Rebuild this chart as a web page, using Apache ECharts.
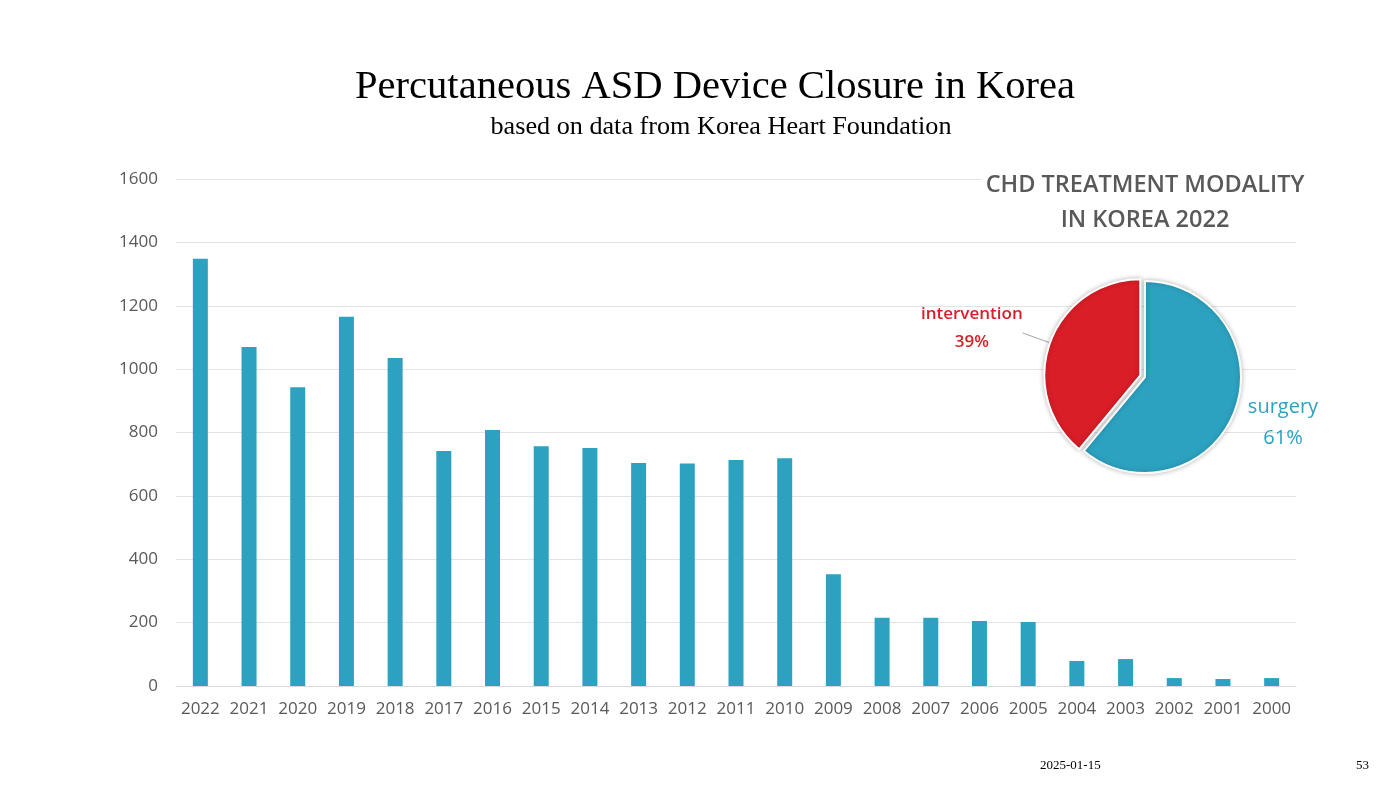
<!DOCTYPE html>
<html>
<head>
<meta charset="utf-8">
<script src="https://cdn.jsdelivr.net/npm/echarts@6/dist/echarts.min.js"></script>
<style>
html,body{margin:0;padding:0;background:#fff;}
#main{width:1400px;height:788px;}
</style>
</head>
<body>
<div id="main"></div>
<script>
// 연도별 시술 건수
var years = ['2022','2021','2020','2019','2018','2017','2016','2015','2014','2013','2012','2011',
	'2010','2009','2008','2007','2006','2005','2004','2003','2002','2001','2000'];
var closures = [1348,1070,943,1165,1035,742,808,757,751,704,702,713,719,353,215,215,205,202,79,85,25,22,25];

// 2022 치료 방법 비율
var modalityNames = ['surgery','intervention'];
var modalityValues = [61,39];
var modalityColors = ['#2ca2c0','#d91e27'];

var myChart = echarts.init(document.getElementById('main'));

var pieData = [];
for(var i=0;i<modalityNames.length;i++){
	var isInt = modalityNames[i]=='intervention';
	pieData.push({
		name: modalityNames[i],
		value: modalityValues[i],
		selected: isInt,
		itemStyle: {color: modalityColors[i]},
		label: {
			rich: {t: {
				color: modalityColors[i],
				fontFamily: 'Open Sans',
				align: 'center',
				fontSize: isInt ? 17 : 20,
				fontWeight: isInt ? 600 : 500,
				lineHeight: isInt ? 28 : 31
			}},
			padding: isInt ? [0, 0, 10, 0] : 0
		},
		labelLine: {show: isInt}
	});
}

myChart.setOption({
	animation: false,
	backgroundColor: '#fff',
	title: [{
		text: 'Percutaneous ASD Device Closure in Korea',
		left: 715, top: 67, textAlign: 'center', padding: 0,
		textStyle: {fontFamily: 'Liberation Serif', fontSize: 40.6, fontWeight: 'normal', color: '#000'}
	}, {
		text: 'based on data from Korea Heart Foundation',
		left: 721, top: 114, textAlign: 'center', padding: 0,
		textStyle: {fontFamily: 'Liberation Serif', fontSize: 26.2, fontWeight: 'normal', color: '#000'}
	}, {
		text: 'CHD TREATMENT MODALITY\nIN KOREA 2022',
		left: 1141, top: 166, textAlign: 'center',
		backgroundColor: '#fff', padding: [2, 4],
		textStyle: {fontFamily: 'Open Sans', fontSize: 23.5, fontWeight: 600, color: '#595959', lineHeight: 35}
	}, {
		text: '2025-01-15',
		left: 1040, top: 759, padding: 0,
		textStyle: {fontFamily: 'Liberation Serif', fontSize: 13, fontWeight: 'normal', color: '#000'}
	}, {
		text: '53',
		left: 1356, top: 759, padding: 0,
		textStyle: {fontFamily: 'Liberation Serif', fontSize: 13, fontWeight: 'normal', color: '#000'}
	}],
	grid: {left: 176, right: 104, top: 179, bottom: 102, containLabel: false},
	xAxis: {
		type: 'category',
		data: years,
		axisLine: {lineStyle: {color: '#d9d9d9'}},
		axisTick: {show: false},
		axisLabel: {color: '#595959', fontFamily: 'Open Sans', fontSize: 17, margin: 15, interval: 0}
	},
	yAxis: {
		type: 'value',
		min: 0, max: 1600, interval: 200,
		axisLine: {show: false},
		axisTick: {show: false},
		splitLine: {lineStyle: {color: '#e3e3e3'}},
		axisLabel: {color: '#595959', fontFamily: 'Open Sans', fontSize: 17, margin: 18,
			formatter: function(v){ return String(v); }}
	},
	series: [{
		type: 'bar',
		data: closures,
		barWidth: 15,
		itemStyle: {color: '#2ca2c0'}
	}, {
		type: 'pie',
		center: [1145, 377],
		radius: 96,
		startAngle: 90,
		selectedMode: 'single',
		selectedOffset: 5,
		data: pieData,
		itemStyle: {borderColor: '#fff', borderWidth: 2, shadowBlur: 5, shadowColor: 'rgba(0,0,0,0.25)'},
		label: {
			show: true,
			position: 'outside',
			formatter: '{t|{b}}\n{t|{c}%}',
			distanceToLabelLine: 0
		},
		labelLine: {show: true, length: 29, length2: 0, lineStyle: {color: '#a6a6a6', width: 1}},
		labelLayout: function(params){
			//surgery 라벨만 위치 조정
			if(params.dataIndex==0){
				return {x: 1283, y: 423, align: 'center', verticalAlign: 'middle'};
			}
			return {};
		},
		emphasis: {disabled: true}
	}]
});
</script>
</body>
</html>
